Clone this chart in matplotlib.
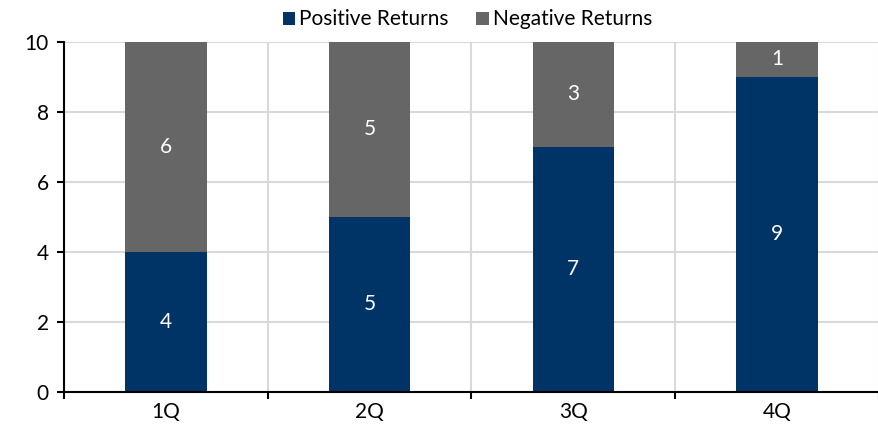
import numpy as np
import matplotlib.pyplot as plt

quarters = ['1Q', '2Q', '3Q', '4Q']
positive = [4, 5, 7, 9]
negative = [6, 5, 3, 1]

navy = '#003366'
grey = '#666666'

plt.rcParams['font.family'] = ['Lato', 'DejaVu Sans']

fig = plt.figure(figsize=(8.79, 4.32), dpi=100)
ax = fig.add_axes([0.0728, 0.0926, 0.9272, 0.8102])

x = np.arange(len(quarters))
w = 0.4
b1 = ax.bar(x, positive, w, color=navy, label='Positive Returns', zorder=3)
b2 = ax.bar(x, negative, w, bottom=positive, color=grey, label='Negative Returns', zorder=3)

for bars, vals, base in [(b1, positive, [0] * 4), (b2, negative, positive)]:
    for rect, v, b in zip(bars, vals, base):
        ax.text(rect.get_x() + rect.get_width() / 2, b + v / 2, str(v),
                ha='center', va='center', color='white', fontsize=15, zorder=4)

ax.set_xlim(-0.5, len(quarters) - 0.5)
ax.set_ylim(0, 10)
ax.set_yticks(range(0, 11, 2))
ax.set_xticks(x)
ax.set_xticklabels(quarters)
ax.set_xticks(np.arange(-0.5, len(quarters)), minor=True)

ax.tick_params(axis='x', which='major', length=0, labelsize=15, pad=7)
ax.tick_params(axis='x', which='minor', length=5, width=1.5, direction='out')
ax.tick_params(axis='y', length=5, width=1.5, labelsize=15, pad=6)

ax.grid(True, axis='y', color='#d9d9d9', linewidth=1.5, zorder=0)
ax.grid(True, axis='x', which='minor', color='#d9d9d9', linewidth=1.5, zorder=0)

for s in ['top', 'right']:
    ax.spines[s].set_visible(False)
for s in ['left', 'bottom']:
    ax.spines[s].set_linewidth(1.5)
    ax.spines[s].set_zorder(5)

ax.legend(loc='lower center', bbox_to_anchor=(0.495, 1.0), ncol=2, frameon=False,
          fontsize=15, handlelength=0.6, handleheight=0.6, handletextpad=0.2,
          columnspacing=1.3, borderaxespad=0.2)

fig.savefig('out.png', dpi=100)
